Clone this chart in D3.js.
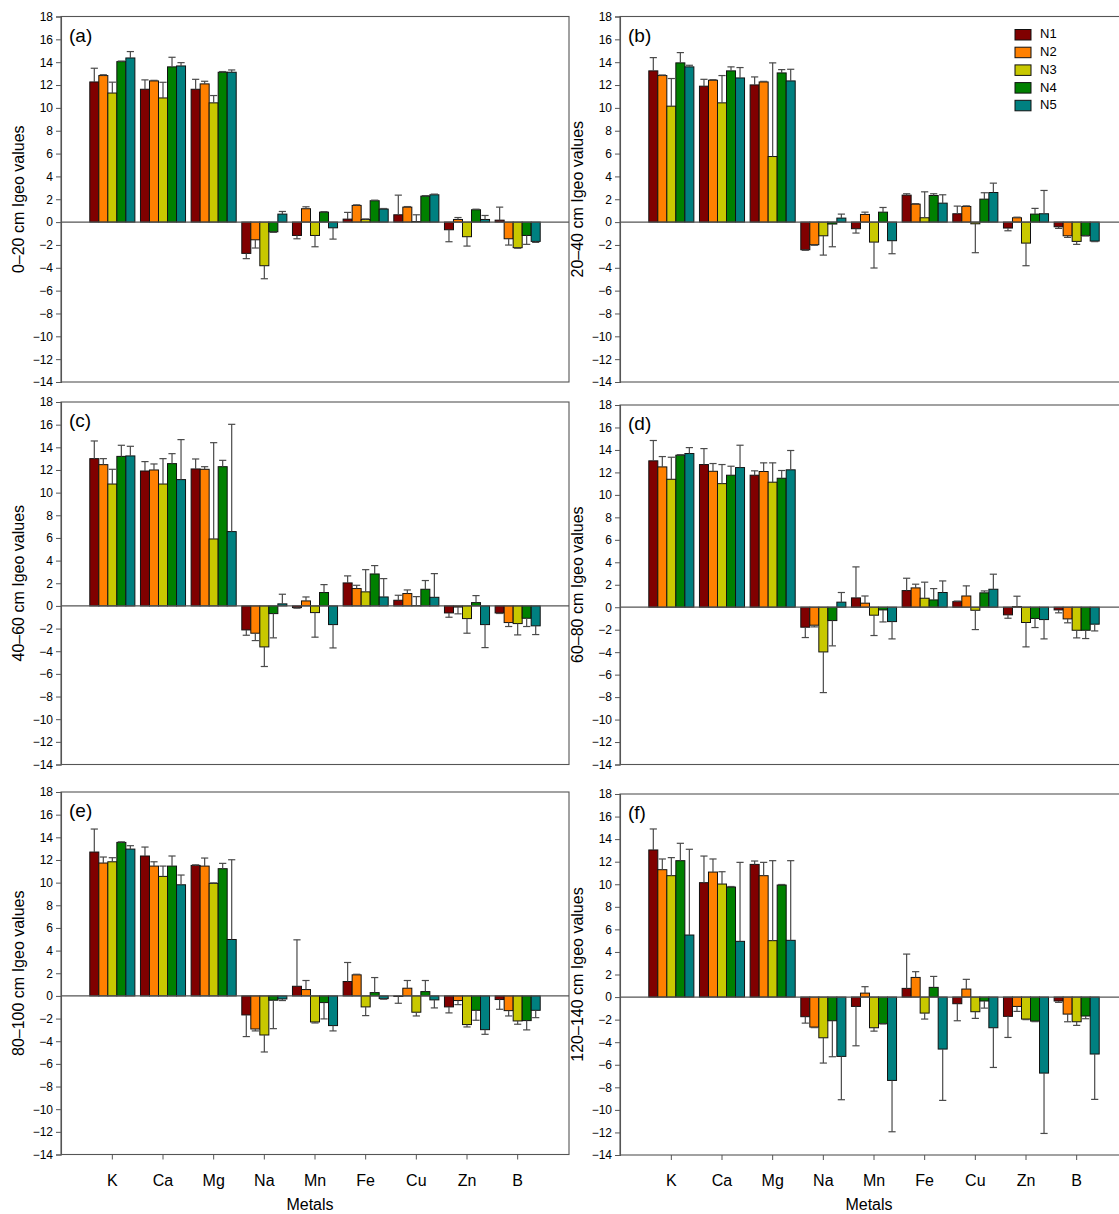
<!DOCTYPE html>
<html>
<head>
<meta charset="utf-8">
<script src="https://cdn.jsdelivr.net/npm/d3@7"></script>
<style>
  body { margin: 0; background: #fff; }
  svg { display: block; }
  text { font-family: Arial, "Liberation Sans", sans-serif; fill: #000; }
</style>
</head>
<body>
<svg id="chart" width="1119" height="1214"></svg>
<script>
// Metals on the x axis, sampling sites as series
const metals = ["K", "Ca", "Mg", "Na", "Mn", "Fe", "Cu", "Zn", "B"];
const sites = ["N1", "N2", "N3", "N4", "N5"];
const siteColors = ["#800000", "#ff8000", "#c8c800", "#008000", "#008080"];
const yTicks = [-14, -12, -10, -8, -6, -4, -2, 0, 2, 4, 6, 8, 10, 12, 14, 16, 18];
const panelTags = ["(a)", "(b)", "(c)", "(d)", "(e)", "(f)"];
const depthTitles = [
  "0–20 cm Igeo values", "20–40 cm Igeo values", "40–60 cm Igeo values",
  "60–80 cm Igeo values", "80–100 cm Igeo values", "120–140 cm Igeo values"
];

// Igeo means, one row per metal, columns N1..N5; errors are the bar SD
const igeo0_20 = [
  [12.27, 12.83, 11.30, 14.05, 14.37], [11.63, 12.36, 10.87, 13.59, 13.67], [11.63, 12.10, 10.44, 13.12, 13.12],
  [-2.74, -1.55, -3.82, -0.85, 0.70], [-1.17, 1.17, -1.17, 0.87, -0.50], [0.26, 1.46, 0.23, 1.87, 1.14],
  [0.64, 1.31, 0.05, 2.27, 2.39], [-0.67, 0.23, -1.28, 1.08, 0.23], [0.17, -1.46, -2.24, -1.17, -1.69]
];
const sd0_20 = [
  [1.20, 0.07, 0.95, 0.05, 0.56], [0.82, 0.05, 1.37, 0.84, 0.29], [0.87, 0.23, 0.64, 0.06, 0.20],
  [0.46, 0.72, 1.14, 0.05, 0.23], [0.29, 0.17, 0.99, 0.05, 0.99], [0.59, 0.05, 0.05, 0.05, 0.05],
  [1.72, 0.05, 0.59, 0.05, 0.06], [1.05, 0.17, 0.82, 0.05, 0.35], [1.14, 0.55, 0.05, 0.78, 0.09]
];
const igeo20_40 = [
  [13.24, 12.83, 10.15, 13.94, 13.59], [11.90, 12.42, 10.44, 13.24, 12.62], [12.01, 12.27, 5.74, 13.06, 12.36],
  [-2.42, -1.98, -1.20, -0.17, 0.35], [-0.58, 0.67, -1.75, 0.87, -1.63], [2.36, 1.57, 0.38, 2.33, 1.66],
  [0.73, 1.37, -0.15, 2.01, 2.59], [-0.52, 0.38, -1.84, 0.70, 0.73], [-0.41, -1.20, -1.69, -1.17, -1.66]
];
const sd20_40 = [
  [1.16, 0.05, 2.42, 0.90, 0.14], [0.60, 0.05, 2.39, 0.35, 0.91], [0.70, 0.05, 8.20, 0.29, 1.02],
  [0.05, 0.05, 1.69, 1.99, 0.35], [0.38, 0.20, 2.27, 0.41, 1.14], [0.12, 0.05, 2.27, 0.15, 0.73],
  [0.67, 0.05, 2.53, 0.56, 0.82], [0.24, 0.05, 1.98, 0.50, 2.04], [0.14, 0.14, 0.26, 0.05, 0.05]
];
const igeo40_60 = [
  [13.00, 12.47, 10.76, 13.20, 13.24], [11.91, 12.00, 10.76, 12.56, 11.15], [12.09, 12.06, 5.91, 12.29, 6.56],
  [-2.12, -2.41, -3.62, -0.68, 0.18], [-0.15, 0.44, -0.59, 1.18, -1.65], [2.03, 1.53, 1.24, 2.82, 0.79],
  [0.50, 1.09, 0.03, 1.47, 0.76], [-0.62, -0.10, -1.12, 0.29, -1.65], [-0.62, -1.47, -1.56, -1.09, -1.76]
];
const sd40_60 = [
  [1.56, 0.53, 1.30, 0.98, 0.85], [0.83, 0.53, 2.24, 0.88, 3.53], [0.88, 0.23, 8.50, 0.56, 9.47],
  [0.47, 0.65, 1.73, 2.14, 0.85], [0.05, 0.35, 2.17, 0.70, 2.06], [0.62, 0.29, 1.96, 0.74, 1.62],
  [0.44, 0.32, 0.79, 0.77, 2.09], [0.38, 0.60, 1.29, 0.62, 2.03], [0.05, 0.35, 1.00, 0.73, 0.77]
];
const igeo60_80 = [
  [13.03, 12.49, 11.39, 13.53, 13.68], [12.70, 12.10, 11.00, 11.75, 12.43], [11.75, 12.08, 11.13, 11.48, 12.23],
  [-1.78, -1.60, -3.98, -1.19, 0.45], [0.83, 0.36, -0.71, -0.24, -1.28], [1.48, 1.72, 0.80, 0.65, 1.31],
  [0.50, 1.00, -0.27, 1.28, 1.60], [-0.68, 0.05, -1.36, -1.00, -1.10], [-0.24, -1.04, -2.05, -2.05, -1.51]
];
const sd60_80 = [
  [1.81, 0.92, 1.96, 0.05, 0.53], [1.42, 0.69, 1.70, 0.80, 1.99], [0.39, 0.77, 1.72, 0.69, 1.72],
  [0.92, 0.15, 3.62, 2.25, 0.86], [2.76, 0.64, 1.81, 1.07, 1.54], [1.10, 0.33, 1.43, 1.01, 1.03],
  [0.05, 0.90, 1.72, 0.17, 1.34], [0.30, 0.93, 2.17, 0.81, 1.72], [0.26, 0.35, 0.68, 0.74, 0.60]
];
const igeo80_100 = [
  [12.70, 11.73, 11.84, 13.55, 12.96], [12.35, 11.46, 10.55, 11.46, 9.81], [11.52, 11.46, 9.93, 11.23, 4.98],
  [-1.68, -2.92, -3.45, -0.38, -0.27], [0.85, 0.56, -2.30, -0.59, -2.62], [1.27, 1.86, -0.97, 0.29, -0.24],
  [-0.05, 0.68, -1.44, 0.38, -0.35], [-0.97, -0.41, -2.53, -1.27, -2.98], [-0.32, -1.30, -2.21, -2.18, -1.27]
];
const sd80_100 = [
  [2.03, 0.53, 0.36, 0.05, 0.30], [0.79, 0.38, 0.91, 0.89, 0.86], [0.05, 0.71, 0.05, 0.47, 7.04],
  [1.91, 0.17, 1.50, 2.51, 0.14], [4.10, 0.80, 0.09, 1.44, 0.47], [1.68, 0.05, 0.77, 1.33, 0.05],
  [0.60, 0.68, 0.33, 0.98, 0.71], [0.53, 0.36, 0.21, 0.88, 0.41], [0.86, 0.47, 0.29, 0.82, 0.65]
];
const igeo120_140 = [
  [13.04, 11.29, 10.76, 12.09, 5.50], [10.14, 11.08, 10.02, 9.75, 4.94], [11.76, 10.76, 5.00, 9.93, 5.03],
  [-1.74, -2.66, -3.61, -2.10, -5.26], [-0.83, 0.35, -2.72, -2.34, -7.39], [0.77, 1.74, -1.42, 0.86, -4.61],
  [-0.59, 0.71, -1.30, -0.35, -2.72], [-1.71, -0.83, -1.95, -2.13, -6.74], [-0.35, -1.51, -2.19, -1.68, -5.05]
];
const sd120_140 = [
  [1.86, 0.95, 1.60, 1.54, 7.60], [2.36, 1.16, 1.09, 0.05, 7.00], [0.30, 1.18, 7.09, 0.05, 7.06],
  [0.57, 0.05, 2.24, 3.19, 3.84], [3.49, 0.57, 0.30, 0.05, 4.55], [3.04, 0.51, 0.53, 0.97, 4.55],
  [1.51, 0.86, 0.59, 0.63, 3.52], [1.87, 0.44, 0.05, 0.05, 5.35], [0.12, 0.68, 0.32, 0.24, 4.02]
];

const panelMeans = [igeo0_20, igeo20_40, igeo40_60, igeo60_80, igeo80_100, igeo120_140];
const panelSDs = [sd0_20, sd20_40, sd40_60, sd60_80, sd80_100, sd120_140];

// Plot frames (pixel layout of the 3 x 2 grid)
const frames = [
  { left: 61, top: 16.5, bottom: 382 },
  { left: 620, top: 16.5, bottom: 382 },
  { left: 61, top: 402, bottom: 764.5 },
  { left: 620, top: 405, bottom: 764.5 },
  { left: 61, top: 792, bottom: 1154.5 },
  { left: 620, top: 794, bottom: 1155 }
];
const plotWidth = 508;
const axisGrey = "#555";

const svg = d3.select("#chart");

const x0 = d3.scaleBand().domain(metals).range([26, plotWidth - 26]).padding(0);
const x1 = d3.scaleBand().domain(sites).range([0, x0.bandwidth()])
  .paddingInner(0).paddingOuter(0.31);

frames.forEach((f, p) => {
  const h = f.bottom - f.top;
  const y = d3.scaleLinear().domain([-14, 18]).range([h, 0]);
  const g = svg.append("g").attr("transform", `translate(${f.left},${f.top})`);

  // frame
  g.append("rect")
    .attr("x", 0).attr("y", 0).attr("width", plotWidth).attr("height", h)
    .attr("fill", "none").attr("stroke", axisGrey).attr("stroke-width", 1.1);

  // y axis
  const ya = g.append("g").call(
    d3.axisLeft(y).tickValues(yTicks).tickSize(5).tickPadding(3).tickFormat(d3.format("d"))
  );
  ya.select(".domain").attr("stroke", axisGrey).attr("stroke-width", 1.1);
  ya.selectAll(".tick line").attr("stroke", axisGrey);
  ya.selectAll(".tick text").attr("font-size", 12).attr("font-family", "Arial, 'Liberation Sans', sans-serif");

  // y axis title
  g.append("text")
    .attr("transform", `translate(${-41},${h / 2}) rotate(-90)`)
    .attr("text-anchor", "middle")
    .attr("dominant-baseline", "middle")
    .attr("font-size", 16)
    .text(depthTitles[p]);

  // panel tag
  g.append("text")
    .attr("x", 8).attr("y", 25)
    .attr("font-size", 19)
    .text(panelTags[p]);

  // records for this panel
  const means = panelMeans[p];
  const sds = panelSDs[p];
  const rows = [];
  metals.forEach((m, i) => sites.forEach((s, j) => {
    rows.push({ metal: m, site: s, j, v: means[i][j], e: sds[i][j] });
  }));

  // bars
  g.append("g").selectAll("rect").data(rows).join("rect")
    .attr("x", d => x0(d.metal) + x1(d.site))
    .attr("width", x1.bandwidth())
    .attr("y", d => y(Math.max(0, d.v)))
    .attr("height", d => Math.abs(y(d.v) - y(0)))
    .attr("fill", d => siteColors[d.j])
    .attr("stroke", "#111")
    .attr("stroke-width", 1);

  // error bars, drawn away from zero
  const eg = g.append("g").attr("stroke", "#4a4a4a").attr("stroke-width", 1.2);
  const capHalf = 3.6;
  rows.forEach(d => {
    const cx = x0(d.metal) + x1(d.site) + x1.bandwidth() / 2;
    const end = d.v >= 0 ? d.v + d.e : d.v - d.e;
    eg.append("line").attr("x1", cx).attr("x2", cx).attr("y1", y(d.v)).attr("y2", y(end));
    eg.append("line").attr("x1", cx - capHalf).attr("x2", cx + capHalf).attr("y1", y(end)).attr("y2", y(end));
  });

  // zero reference line
  g.append("line")
    .attr("x1", 0).attr("x2", plotWidth).attr("y1", y(0)).attr("y2", y(0))
    .attr("stroke", axisGrey).attr("stroke-width", 1.2);

  // category axis on the bottom row
  if (p >= 4) {
    const xa = g.append("g").attr("transform", `translate(0,${h})`)
      .call(d3.axisBottom(x0).tickSize(5).tickPadding(15));
    xa.select(".domain").remove();
    xa.selectAll(".tick line").attr("stroke", axisGrey);
    xa.selectAll(".tick text").attr("font-size", 16).attr("font-family", "Arial, 'Liberation Sans', sans-serif");
    g.append("text")
      .attr("x", plotWidth / 2 - 5).attr("y", 1209.5 - f.top)
      .attr("text-anchor", "middle")
      .attr("font-size", 16)
      .text("Metals");
  }

  // legend in panel (b)
  if (p === 1) {
    const lg = g.append("g").attr("transform", "translate(395,13)");
    sites.forEach((s, j) => {
      lg.append("rect")
        .attr("x", 0).attr("y", j * 17.7).attr("width", 16).attr("height", 10.5)
        .attr("fill", siteColors[j]).attr("stroke", "#111").attr("stroke-width", 1);
      lg.append("text")
        .attr("x", 25).attr("y", j * 17.7 + 5.5)
        .attr("dominant-baseline", "middle")
        .attr("font-size", 13)
        .text(s);
    });
  }
});
</script>
</body>
</html>
